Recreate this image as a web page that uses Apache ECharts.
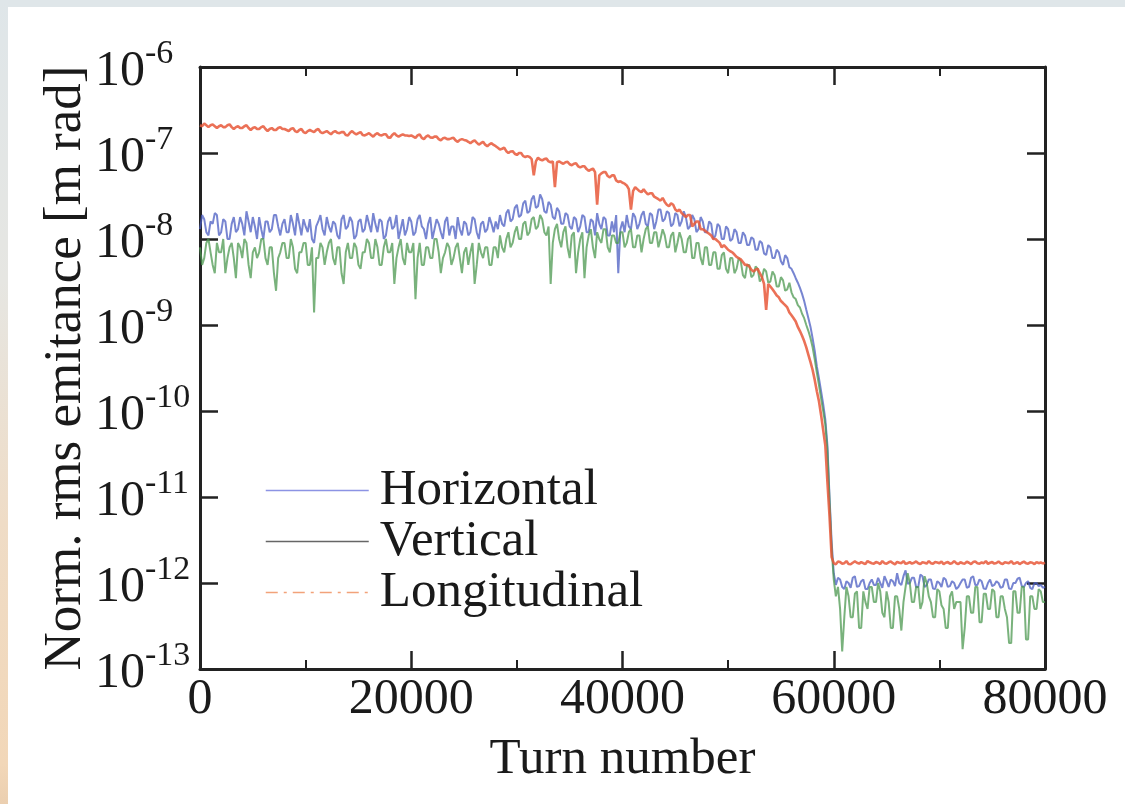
<!DOCTYPE html>
<html><head><meta charset="utf-8">
<script src="https://cdn.jsdelivr.net/npm/echarts@6/dist/echarts.min.js"></script>
<style>
html,body{margin:0;padding:0;background:#fff;overflow:hidden;}
#chart{position:absolute;left:0;top:0;width:1125px;height:804px;}
#topband{position:absolute;left:0;top:0;width:1125px;height:7px;background:#dfe6e9;}
#leftband{position:absolute;left:0;top:0;width:8px;height:804px;background:linear-gradient(to bottom,#dfe6e9 0%,#e6e6e2 35%,#efdcc6 65%,#f2d7b8 95%,#ebcfb0 100%);}
</style></head>
<body>
<div id="chart"></div><div id="topband"></div><div id="leftband"></div>
<script>
const turnStep = 200;
const xTicks = [0, 20000, 40000, 60000, 80000];
const seriesNames = ['Horizontal', 'Vertical', 'Longitudinal'];

const horizontal = [
1.3e-8,1.9e-8,1.7e-8,1.2e-8,1.1e-8,1.6e-8,1.5e-8,2.0e-8,1.9e-8,1.1e-8,1.2e-8,1.7e-8,1.6e-8,1.0e-8,1.0e-8,1.5e-8,1.8e-8,1.2e-8,1.3e-8,1.8e-8,
1.5e-8,1.1e-8,2.1e-8,1.6e-8,1.2e-8,1.8e-8,1.4e-8,1.0e-8,1.8e-8,1.3e-8,1.0e-8,1.6e-8,1.6e-8,1.2e-8,1.3e-8,1.9e-8,1.9e-8,1.4e-8,1.1e-8,1.5e-8,
1.7e-8,1.2e-8,1.2e-8,1.9e-8,1.5e-8,1.1e-8,2.0e-8,1.5e-8,1.1e-8,1.7e-8,1.4e-8,1.2e-8,1.7e-8,1.0e-8,0.9e-8,1.4e-8,1.6e-8,1.9e-8,1.3e-8,1.1e-8,
1.8e-8,1.4e-8,1.2e-8,1.6e-8,1.5e-8,1.1e-8,1.0e-8,1.7e-8,1.9e-8,1.3e-8,1.4e-8,1.8e-8,1.6e-8,1.0e-8,1.1e-8,1.6e-8,1.7e-8,1.2e-8,1.3e-8,1.9e-8,
1.5e-8,1.2e-8,2.0e-8,1.5e-8,1.2e-8,1.7e-8,1.6e-8,1.0e-8,1.1e-8,1.6e-8,1.8e-8,1.3e-8,1.4e-8,1.9e-8,1.0e-8,1.3e-8,1.7e-8,1.1e-8,1.3e-8,1.8e-8,
1.6e-8,1.1e-8,1.2e-8,1.7e-8,1.9e-8,1.4e-8,1.3e-8,1.0e-8,1.5e-8,1.8e-8,1.0e-8,1.3e-8,1.7e-8,1.5e-8,1.2e-8,1.0e-8,1.6e-8,1.8e-8,1.1e-8,1.4e-8,
1.4e-8,1.0e-8,1.8e-8,1.3e-8,1.1e-8,1.6e-8,1.5e-8,1.1e-8,1.2e-8,1.8e-8,1.7e-8,1.2e-8,1.0e-8,1.5e-8,1.6e-8,1.2e-8,1.3e-8,1.8e-8,1.5e-8,1.2e-8,
1.6e-8,1.3e-8,1.9e-8,1.5e-8,1.4e-8,2.0e-8,2.2e-8,1.6e-8,1.7e-8,2.3e-8,2.5e-8,1.8e-8,1.9e-8,2.6e-8,2.8e-8,2.0e-8,2.1e-8,2.9e-8,3.2e-8,2.3e-8,
2.4e-8,3.3e-8,2.9e-8,2.1e-8,2.0e-8,2.7e-8,2.5e-8,1.8e-8,1.7e-8,2.3e-8,2.1e-8,1.5e-8,1.5e-8,2.0e-8,1.9e-8,1.4e-8,1.3e-8,1.8e-8,1.7e-8,1.2e-8,
1.4e-8,1.9e-8,1.8e-8,1.2e-8,1.2e-8,1.7e-8,1.6e-8,1.1e-8,2.0e-8,1.5e-8,1.3e-8,1.8e-8,1.7e-8,1.1e-8,1.1e-8,1.6e-8,1.2e-8,1.9e-8,4.0e-9,1.3e-8,
1.6e-8,1.2e-8,1.9e-8,1.4e-8,1.3e-8,2.0e-8,1.8e-8,1.3e-8,1.5e-8,1.9e-8,2.1e-8,1.5e-8,1.4e-8,2.0e-8,1.9e-8,1.3e-8,1.6e-8,2.2e-8,2.2e-8,1.6e-8,
1.7e-8,2.1e-8,2.0e-8,1.4e-8,1.5e-8,2.0e-8,1.9e-8,1.4e-8,1.6e-8,2.1e-8,1.8e-8,1.3e-8,1.4e-8,1.9e-8,1.7e-8,1.2e-8,1.3e-8,1.8e-8,1.6e-8,1.2e-8,
1.2e-8,1.6e-8,1.5e-8,1.0e-8,1.1e-8,1.5e-8,1.4e-8,1.0e-8,1.0e-8,1.4e-8,1.3e-8,9.5e-9,1.0e-8,1.3e-8,1.2e-8,9.0e-9,9.0e-9,1.2e-8,1.1e-8,8.5e-9,
8.5e-9,1.05e-8,1.0e-8,7.5e-9,7.5e-9,9.5e-9,9.0e-9,6.8e-9,6.5e-9,8.5e-9,8.0e-9,6.0e-9,6.0e-9,7.5e-9,7.0e-9,5.5e-9,5.0e-9,6.5e-9,6.0e-9,4.7e-9,
4.5e-9,4.0e-9,3.5e-9,3.1e-9,2.7e-9,2.3e-9,1.9e-9,1.5e-9,1.2e-9,9.5e-10,7.0e-10,5.0e-10,3.3e-10,2.4e-10,1.7e-10,1.2e-10,8.0e-11,4.0e-11,1.0e-11,3.0e-12,
1.3e-12,9.5e-13,1.15e-12,1.1e-12,9.0e-13,8.5e-13,1.05e-12,1.0e-12,8.8e-13,1.15e-12,1.2e-12,9.0e-13,9.2e-13,1.05e-12,1.1e-12,8.5e-13,8.5e-13,1.0e-12,1.1e-12,9.5e-13,
9.5e-13,1.15e-12,1.0e-12,8.8e-13,1.2e-12,1.05e-12,9.0e-13,1.1e-12,1.05e-12,9.2e-13,1.3e-12,1.0e-12,9.5e-13,1.2e-12,1.4e-12,9.8e-13,1.0e-12,1.15e-12,1.15e-12,9.0e-13,
9.0e-13,1.25e-12,1.2e-12,9.0e-13,9.5e-13,1.1e-12,1.1e-12,8.6e-13,8.5e-13,1.05e-12,1.0e-12,9.0e-13,1.15e-12,1.1e-12,9.0e-13,9.2e-13,1.05e-12,1.0e-12,8.5e-13,9.0e-13,
1.0e-12,1.1e-12,1.1e-12,8.8e-13,9.0e-13,1.15e-12,1.2e-12,9.5e-13,9.5e-13,1.1e-12,1.05e-12,8.6e-13,8.5e-13,1.0e-12,1.1e-12,9.2e-13,9.5e-13,1.05e-12,1.0e-12,8.8e-13,
9.0e-13,1.1e-12,1.1e-12,8.6e-13,8.5e-13,1.0e-12,1.0e-12,1.12e-12,1.15e-12,9.2e-13,9.0e-13,1.0e-12,1.05e-12,8.8e-13,8.5e-13,1.0e-12,1.0e-12,9.2e-13,9.5e-13,8.8e-13,
9.0e-13
];

const vertical = [
8e-9,5e-9,6e-9,9e-9,1.0e-8,7e-9,5e-9,4e-9,9e-9,7e-9,7e-9,1.0e-8,4e-9,6e-9,8e-9,9e-9,6e-9,3.5e-9,9e-9,8e-9,
6e-9,1.0e-8,9e-9,5e-9,3.5e-9,7e-9,8e-9,6e-9,7e-9,1.0e-8,1.0e-8,6e-9,5e-9,8e-9,8e-9,4e-9,2.5e-9,6e-9,7e-9,9e-9,
9e-9,6e-9,6e-9,1.0e-8,8e-9,4.5e-9,4e-9,7e-9,7e-9,9e-9,9e-9,5e-9,5e-9,8e-9,1.4e-9,6e-9,6e-9,9e-9,8e-9,5e-9,
7e-9,9e-9,1.0e-8,6e-9,5e-9,8e-9,8e-9,4e-9,3e-9,7e-9,9e-9,6e-9,6e-9,9e-9,8e-9,5e-9,4.5e-9,7e-9,7e-9,1.0e-8,
9e-9,6e-9,6e-9,1.0e-8,8e-9,5e-9,5e-9,8e-9,1.0e-8,7e-9,7e-9,9e-9,3e-9,6e-9,8e-9,1.0e-8,6e-9,5e-9,9e-9,7e-9,
7e-9,9e-9,2e-9,6e-9,9e-9,5e-9,5e-9,8e-9,8e-9,6e-9,6e-9,1.0e-8,1.0e-8,7e-9,4e-9,6e-9,7e-9,9e-9,8e-9,5e-9,
6e-9,8e-9,9e-9,6e-9,4e-9,7e-9,8e-9,5e-9,7e-9,9e-9,3e-9,5e-9,9e-9,7e-9,6e-9,8e-9,8e-9,5e-9,5e-9,8e-9,
8e-9,6e-9,1.1e-8,8e-9,7e-9,1.0e-8,1.2e-8,8e-9,9e-9,1.2e-8,1.4e-8,1.0e-8,1.0e-8,1.5e-8,1.6e-8,1.1e-8,1.2e-8,1.7e-8,1.8e-8,1.3e-8,
1.4e-8,1.9e-8,1.7e-8,1.2e-8,1.1e-8,1.4e-8,3e-9,9e-9,1.3e-8,1.5e-8,1.0e-8,8e-9,1.2e-8,1.4e-8,8e-9,6e-9,1.1e-8,1.2e-8,4e-9,7e-9,
1.0e-8,1.2e-8,3.5e-9,8e-9,1.1e-8,1.3e-8,8e-9,6e-9,1.2e-8,1.0e-8,9e-9,1.3e-8,1.3e-8,8e-9,7e-9,1.1e-8,1.1e-8,9e-9,9e-9,1.2e-8,
1.2e-8,8e-9,9e-9,1.2e-8,1.3e-8,8e-9,8e-9,1.1e-8,1.1e-8,7e-9,1.0e-8,1.3e-8,1.4e-8,9e-9,9e-9,1.2e-8,1.2e-8,8e-9,1.0e-8,1.3e-8,
1.1e-8,8e-9,8e-9,1.1e-8,1.2e-8,7e-9,9e-9,1.2e-8,1.0e-8,7e-9,7e-9,1.0e-8,1.1e-8,6e-9,6e-9,9e-9,9e-9,6e-9,5e-9,8e-9,
8e-9,5e-9,5e-9,7e-9,7e-9,4.5e-9,4.5e-9,6.5e-9,7e-9,4.5e-9,4e-9,6e-9,6e-9,4e-9,4.5e-9,6e-9,5.5e-9,3.8e-9,3.5e-9,5e-9,
5e-9,3.6e-9,3.8e-9,4.8e-9,4.5e-9,3.2e-9,3.5e-9,4.5e-9,4.2e-9,3.1e-9,3.2e-9,4.2e-9,3.8e-9,2.8e-9,2.8e-9,3.6e-9,3.3e-9,2.5e-9,2.6e-9,3.1e-9,
2.4e-9,2.1e-9,2.0e-9,1.7e-9,1.6e-9,1.35e-9,1.2e-9,1.0e-9,8.5e-10,7.0e-10,5.5e-10,4.0e-10,2.8e-10,2.0e-10,1.4e-10,1.0e-10,7.0e-11,3.5e-11,9.0e-12,2.5e-12,
1.1e-12,7e-13,9e-13,5e-13,1.6e-13,4e-13,9e-13,7e-13,4e-13,4e-13,7.5e-13,8e-13,3e-13,3e-13,8e-13,6e-13,5e-13,9e-13,9e-13,6e-13,
6e-13,1.0e-12,8e-13,4.5e-13,4e-13,8e-13,6e-13,3e-13,3e-13,7e-13,7e-13,5e-13,2.8e-13,6e-13,9e-13,1.3e-12,1.0e-12,6e-13,6e-13,9e-13,
9e-13,5e-13,6e-13,1.2e-12,1.0e-12,7e-13,6e-13,4e-13,4e-13,8.5e-13,8e-13,5.5e-13,5e-13,3e-13,3e-13,7e-13,8e-13,5e-13,6e-13,6e-13,
6e-13,1.7e-13,3e-13,7e-13,7e-13,4.5e-13,4.5e-13,9e-13,9e-13,3.5e-13,3.5e-13,7.5e-13,7.5e-13,5e-13,5e-13,8.5e-13,8e-13,4e-13,4e-13,7e-13,
7e-13,5e-13,4e-13,2e-13,2e-13,8e-13,8e-13,4.5e-13,4.5e-13,9e-13,9e-13,2.2e-13,2.2e-13,7e-13,7e-13,5e-13,5e-13,8.5e-13,8e-13,6e-13,
6e-13
];

const longitudinal = [
2.1e-7,2.05e-7,2.2e-7,2.1e-7,2.0e-7,2.1e-7,2.15e-7,2.05e-7,1.95e-7,2.05e-7,2.1e-7,2.0e-7,2.0e-7,2.1e-7,2.15e-7,2.0e-7,1.9e-7,2.0e-7,2.05e-7,1.95e-7,
1.95e-7,2.05e-7,2.1e-7,1.95e-7,1.85e-7,1.95e-7,2.0e-7,1.9e-7,1.9e-7,2.0e-7,2.05e-7,1.9e-7,1.8e-7,1.9e-7,1.95e-7,1.85e-7,1.85e-7,1.95e-7,2.0e-7,1.9e-7,
1.9e-7,1.85e-7,1.8e-7,1.9e-7,1.95e-7,1.8e-7,1.75e-7,1.85e-7,1.9e-7,1.75e-7,1.7e-7,1.8e-7,1.85e-7,1.8e-7,1.75e-7,1.85e-7,1.9e-7,1.75e-7,1.7e-7,1.75e-7,
1.8e-7,1.72e-7,1.65e-7,1.75e-7,1.8e-7,1.72e-7,1.7e-7,1.75e-7,1.75e-7,1.62e-7,1.6e-7,1.72e-7,1.8e-7,1.7e-7,1.65e-7,1.7e-7,1.75e-7,1.62e-7,1.6e-7,1.65e-7,
1.7e-7,1.62e-7,1.55e-7,1.65e-7,1.7e-7,1.62e-7,1.6e-7,1.65e-7,1.65e-7,1.52e-7,1.5e-7,1.62e-7,1.7e-7,1.6e-7,1.55e-7,1.6e-7,1.65e-7,1.6e-7,1.6e-7,1.58e-7,
1.6e-7,1.55e-7,1.5e-7,1.6e-7,1.65e-7,1.5e-7,1.45e-7,1.55e-7,1.6e-7,1.52e-7,1.5e-7,1.55e-7,1.55e-7,1.45e-7,1.4e-7,1.48e-7,1.5e-7,1.45e-7,1.45e-7,1.48e-7,
1.5e-7,1.4e-7,1.35e-7,1.42e-7,1.45e-7,1.42e-7,1.4e-7,1.35e-7,1.3e-7,1.36e-7,1.4e-7,1.32e-7,1.25e-7,1.3e-7,1.35e-7,1.25e-7,1.2e-7,1.26e-7,1.3e-7,1.24e-7,
1.2e-7,1.15e-7,1.1e-7,1.12e-7,1.15e-7,1.05e-7,1.0e-7,1.04e-7,1.05e-7,9.8e-8,9.5e-8,1.0e-7,1.0e-7,9.2e-8,9.0e-8,9.2e-8,9.0e-8,8.5e-8,5.5e-8,8.0e-8,
8.8e-8,8.4e-8,8.2e-8,8.5e-8,8.6e-8,8.0e-8,7.8e-8,8.0e-8,4.0e-8,7.8e-8,8.0e-8,7.7e-8,7.5e-8,7.8e-8,7.9e-8,7.4e-8,7.2e-8,7.5e-8,7.6e-8,7.0e-8,
6.8e-8,7.0e-8,7.0e-8,6.5e-8,6.2e-8,6.4e-8,6.6e-8,6.0e-8,2.5e-8,5.5e-8,5.8e-8,6.0e-8,6.0e-8,5.4e-8,5.2e-8,5.5e-8,5.5e-8,4.8e-8,4.6e-8,4.7e-8,
4.5e-8,4.4e-8,4.2e-8,3.8e-8,2.2e-8,3.6e-8,4.0e-8,3.8e-8,3.6e-8,3.5e-8,3.8e-8,3.5e-8,3.3e-8,3.4e-8,3.4e-8,3.1e-8,3.0e-8,2.9e-8,2.8e-8,3.0e-8,
2.7e-8,2.5e-8,2.4e-8,2.6e-8,2.5e-8,2.2e-8,2.1e-8,2.2e-8,2.0e-8,1.9e-8,1.8e-8,1.9e-8,1.9e-8,1.4e-8,1.5e-8,1.6e-8,1.6e-8,1.3e-8,1.3e-8,1.25e-8,
1.2e-8,1.15e-8,1.1e-8,1.0e-8,1.0e-8,9.5e-9,9.0e-9,8.0e-9,8.5e-9,8.0e-9,7.5e-9,7.2e-9,7.0e-9,6.6e-9,6.2e-9,6.0e-9,5.8e-9,5.4e-9,5.0e-9,5.0e-9,
4.8e-9,4.4e-9,4.2e-9,4.4e-9,4.5e-9,4.0e-9,3.6e-9,3.0e-9,1.5e-9,3.0e-9,2.8e-9,2.6e-9,2.4e-9,2.2e-9,2.1e-9,1.9e-9,1.8e-9,1.7e-9,1.6e-9,1.4e-9,
1.3e-9,1.2e-9,1.1e-9,9.5e-10,8.5e-10,7.5e-10,6.5e-10,5.5e-10,4.5e-10,3.7e-10,3.0e-10,2.3e-10,1.7e-10,1.3e-10,9.0e-11,6.0e-11,4.0e-11,1.5e-11,6.0e-12,2.0e-12,
1.7e-12,1.65e-12,1.78e-12,1.75e-12,1.68e-12,1.7e-12,1.8e-12,1.66e-12,1.65e-12,1.72e-12,1.78e-12,1.72e-12,1.68e-12,1.75e-12,1.7e-12,1.66e-12,1.8e-12,1.74e-12,1.7e-12,1.68e-12,
1.75e-12,1.72e-12,1.66e-12,1.8e-12,1.7e-12,1.68e-12,1.74e-12,1.78e-12,1.7e-12,1.65e-12,1.76e-12,1.72e-12,1.7e-12,1.8e-12,1.67e-12,1.7e-12,1.75e-12,1.68e-12,1.72e-12,1.78e-12,
1.7e-12,1.66e-12,1.74e-12,1.72e-12,1.68e-12,1.8e-12,1.7e-12,1.67e-12,1.75e-12,1.73e-12,1.7e-12,1.78e-12,1.66e-12,1.72e-12,1.75e-12,1.68e-12,1.7e-12,1.8e-12,1.7e-12,1.66e-12,
1.74e-12,1.7e-12,1.68e-12,1.77e-12,1.72e-12,1.66e-12,1.75e-12,1.78e-12,1.7e-12,1.68e-12,1.73e-12,1.7e-12,1.8e-12,1.67e-12,1.72e-12,1.75e-12,1.68e-12,1.71e-12,1.78e-12,1.7e-12,
1.66e-12,1.74e-12,1.72e-12,1.7e-12,1.8e-12,1.68e-12,1.7e-12,1.75e-12,1.66e-12,1.72e-12,1.77e-12,1.7e-12,1.68e-12,1.74e-12,1.72e-12,1.66e-12,1.75e-12,1.7e-12,1.73e-12,1.69e-12,
1.72e-12
];

const FONT = "'Liberation Serif','Times New Roman',serif";
const INK = '#1a1a1a';
const AX = '#222';

function pairs(arr){ return arr.map((v,i)=>[i*turnStep, v]); }

const xAxisBase = {
  type:'value', min:xTicks[0], max:xTicks[xTicks.length-1], interval:xTicks[1]-xTicks[0],
  axisLine:{onZero:false, lineStyle:{color:AX, width:3}},
  axisTick:{inside:true, length:18, lineStyle:{color:AX, width:2.5}},
  minorTick:{show:true, splitNumber:2, length:9, lineStyle:{color:AX, width:2}},
  splitLine:{show:false}, minorSplitLine:{show:false}
};
const yAxisBase = {
  type:'log', logBase:10, min:1e-13, max:1e-6, splitNumber:7,
  axisLine:{onZero:false, lineStyle:{color:AX, width:3}},
  axisTick:{inside:true, length:18, lineStyle:{color:AX, width:2.5}},
  minorTick:{show:false},
  splitLine:{show:false}, minorSplitLine:{show:false}
};

const option = {
  animation:false,
  backgroundColor:'#fff',
  grid:{left:200, right:80, top:67, bottom:135, containLabel:false, outerBoundsMode:'none'},
  xAxis:[
    Object.assign({}, xAxisBase, {
      position:'bottom',
      axisLabel:{fontFamily:FONT, fontSize:50, color:INK, margin:6, showMinLabel:true, showMaxLabel:true,
                 formatter:function(v){ return String(v); }},
      name:'Turn number', nameLocation:'middle', nameGap:65, nameMoveOverlap:false,
      nameTextStyle:{fontFamily:FONT, fontSize:51, color:INK}
    }),
    Object.assign({}, xAxisBase, {position:'top', axisLabel:{show:false}})
  ],
  yAxis:[
    Object.assign({}, yAxisBase, {
      position:'left',
      axisLabel:{
        align:'left', margin:105, showMinLabel:true, showMaxLabel:true,
        formatter:function(v){ const e = Math.round(Math.log10(v)); return '{b|10}{s|' + e + '}'; },
        rich:{
          b:{fontFamily:FONT, fontSize:50, color:INK, lineHeight:60, verticalAlign:'bottom'},
          s:{fontFamily:FONT, fontSize:34, color:INK, lineHeight:30, verticalAlign:'top'}
        }
      },
      name:'Norm. rms emitance [m rad]', nameLocation:'middle', nameGap:107, nameMoveOverlap:false,
      nameTextStyle:{fontFamily:FONT, fontSize:53, color:INK}
    }),
    Object.assign({}, yAxisBase, {position:'right', axisLabel:{show:false}})
  ],
  legend:{
    orient:'vertical', left:260, top:460, itemWidth:103, itemHeight:10, itemGap:0,
    textStyle:{fontFamily:FONT, fontSize:51, color:INK, lineHeight:51, padding:[0,0,0,6]},
    data:[
      {name:seriesNames[0], itemStyle:{opacity:0}, lineStyle:{color:'#8c93e4', width:1.5, type:'solid', opacity:1}},
      {name:seriesNames[1], itemStyle:{opacity:0}, lineStyle:{color:'#666666', width:1.5, type:'solid', opacity:1}},
      {name:seriesNames[2], itemStyle:{opacity:0}, lineStyle:{color:'#f2a27a', width:1.5, type:[12,6,3,6], opacity:1}}
    ]
  },
  series:[
    {name:seriesNames[0], type:'line', data:pairs(horizontal), symbol:'none', showSymbol:false,
     lineStyle:{color:'#4a5cc2', width:2.0, opacity:0.75}, itemStyle:{color:'#4a5cc2'}},
    {name:seriesNames[1], type:'line', data:pairs(vertical), symbol:'none', showSymbol:false,
     lineStyle:{color:'#4c9850', width:2.0, opacity:0.75}, itemStyle:{color:'#4c9850'}},
    {name:seriesNames[2], type:'line', data:pairs(longitudinal), symbol:'none', showSymbol:false,
     lineStyle:{color:'#e8583a', width:2.6, opacity:0.85}, itemStyle:{color:'#e8583a'}}
  ]
};

const chart = echarts.init(document.getElementById('chart'), null, {renderer:'canvas'});
chart.setOption(option);
</script>
</body></html>
